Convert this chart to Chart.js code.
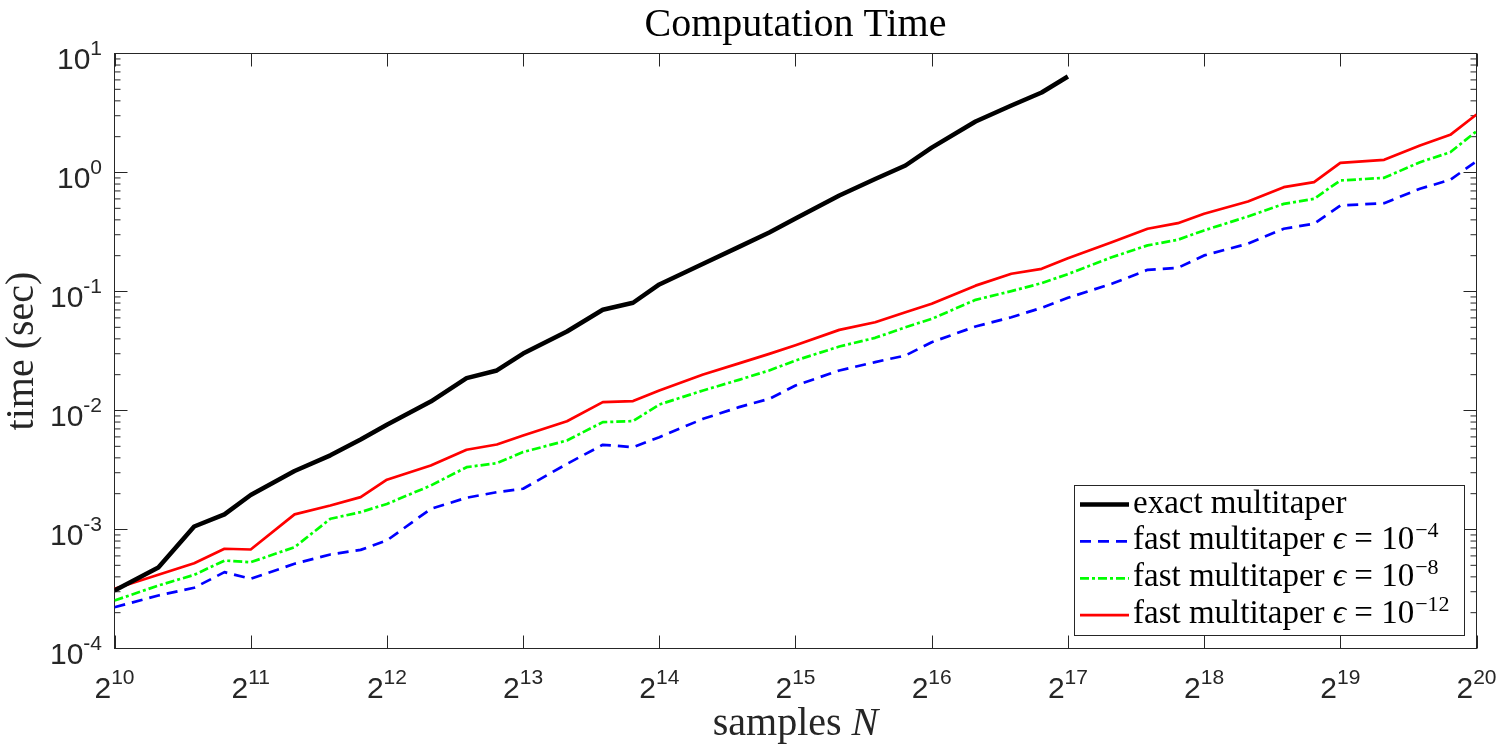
<!DOCTYPE html>
<html>
<head>
<meta charset="utf-8">
<title>Computation Time</title>
<script src="https://cdn.jsdelivr.net/npm/chart.js@4.4.1/dist/chart.umd.min.js"></script>
<style>
  html, body { margin: 0; padding: 0; background: #fff; }
  #wrap { width: 1500px; height: 750px; }
</style>
</head>
<body>
<div id="wrap"><canvas id="timeChart" width="1500" height="750"></canvas></div>
<script>
// numero de amostras N
const samples = [1024, 1280, 1536, 1792, 2048, 2560, 3072, 3584, 4096, 5120, 6144, 7168,
  8192, 10240, 12288, 14336, 16384, 20480, 24576, 28672, 32768, 40960, 49152, 57344,
  65536, 81920, 98304, 114688, 131072, 163840, 196608, 229376, 262144, 327680, 393216,
  458752, 524288, 655360, 786432, 917504, 1048576];

// tempos (sec)
const exactTime = [3.07e-4, 4.8e-4, 1.06e-3, 1.34e-3, 1.95e-3, 3.1e-3, 4.2e-3, 5.7e-3,
  7.6e-3, 0.0119, 0.0187, 0.0217, 0.0301, 0.0461, 0.0702, 0.0804, 0.1146, 0.171, 0.237,
  0.313, 0.41, 0.641, 0.882, 1.145, 1.62, 2.68, 3.66, 4.70, 6.41];
const fastTime4 = [2.22e-4, 2.79e-4, 3.24e-4, 4.38e-4, 3.85e-4, 5.15e-4, 6.17e-4, 6.74e-4,
  8.09e-4, 1.49e-3, 1.85e-3, 2.06e-3, 2.2e-3, 3.56e-3, 5.15e-3, 4.92e-3, 5.97e-3, 8.51e-3,
  0.01067, 0.01253, 0.0162, 0.0217, 0.0255, 0.029, 0.0375, 0.0508, 0.0608, 0.0729, 0.0885,
  0.116, 0.152, 0.158, 0.201, 0.252, 0.337, 0.371, 0.528, 0.552, 0.73, 0.868, 1.244];
const fastTime8 = [2.53e-4, 3.38e-4, 4.16e-4, 5.48e-4, 5.31e-4, 7.1e-4, 1.23e-3, 1.4e-3,
  1.64e-3, 2.34e-3, 3.34e-3, 3.61e-3, 4.47e-3, 5.6e-3, 7.98e-3, 8.15e-3, 0.01122, 0.01473,
  0.0181, 0.0217, 0.0263, 0.0345, 0.0408, 0.0501, 0.0589, 0.0851, 0.1007, 0.1175, 0.14,
  0.194, 0.244, 0.272, 0.326, 0.427, 0.545, 0.601, 0.857, 0.902, 1.221, 1.481, 2.22];
const fastTime12 = [3.18e-4, 4.16e-4, 5.21e-4, 6.89e-4, 6.79e-4, 1.34e-3, 1.59e-3, 1.87e-3,
  2.62e-3, 3.45e-3, 4.68e-3, 5.18e-3, 6.17e-3, 8.13e-3, 0.01175, 0.012, 0.01473, 0.0201,
  0.0249, 0.0299, 0.0354, 0.0476, 0.0552, 0.067, 0.0789, 0.112, 0.141, 0.155, 0.19,
  0.2595, 0.3366, 0.375, 0.45, 0.57, 0.753, 0.829, 1.206, 1.278, 1.686, 2.073, 3.07];

// rotulos dos eixos
const xTickExponents = [10, 11, 12, 13, 14, 15, 16, 17, 18, 19, 20];
const yTickExponents = [1, 0, -1, -2, -3, -4];
const legendLabels = [
  'exact multitaper',
  'fast multitaper ϵ = 10^−4',
  'fast multitaper ϵ = 10^−8',
  'fast multitaper ϵ = 10^−12'
];

const axisColor = '#262626';
const serif = "'Liberation Serif', 'DejaVu Serif', serif";
const sans = "'Liberation Sans', Arial, sans-serif";

function toPoints(values) {
  return values.map((v, i) => ({ x: samples[i], y: v }));
}

// base + expoente (ex.: 2^10, 10^-3)
function drawPower(ctx, base, exp, x, y, align) {
  ctx.font = '30px ' + sans;
  const wb = ctx.measureText(base).width;
  ctx.font = '21px ' + sans;
  const we = ctx.measureText(exp).width;
  let start = align === 'center' ? x - (wb + we) / 2 : x - wb - we;
  ctx.font = '30px ' + sans;
  ctx.fillText(base, start, y);
  ctx.font = '21px ' + sans;
  ctx.fillText(exp, start + wb, y - 14);
}

// texto da legenda com ϵ em italico e expoente
function drawLegendText(ctx, text, x, y) {
  const parts = text.split('^');
  const main = parts[0];
  const pieces = main.split('ϵ');
  let cx = x;
  ctx.textAlign = 'left';
  pieces.forEach((p, i) => {
    ctx.font = '33px ' + serif;
    ctx.fillText(p, cx, y);
    cx += ctx.measureText(p).width;
    if (i < pieces.length - 1) {
      ctx.font = 'italic 33px ' + serif;
      ctx.fillText('ϵ', cx, y);
      cx += ctx.measureText('ϵ').width;
    }
  });
  if (parts[1]) {
    ctx.font = '22px ' + serif;
    ctx.fillText(parts[1], cx + 1, y - 12);
  }
}

const matlabAxes = {
  id: 'matlabAxes',
  beforeDatasetsDraw(chart) {
    const { ctx, chartArea: a, scales: { x, y } } = chart;
    ctx.save();
    ctx.strokeStyle = axisColor;
    ctx.lineWidth = 1;
    ctx.beginPath();
    // ticks principais em x (baixo e topo)
    xTickExponents.forEach(e => {
      const px = Math.round(x.getPixelForValue(Math.pow(2, e))) + 0.5;
      ctx.moveTo(px, a.bottom); ctx.lineTo(px, a.bottom - 13);
      ctx.moveTo(px, a.top); ctx.lineTo(px, a.top + 13);
    });
    // ticks em y (principais e secundarios)
    for (let k = -4; k <= 1; k++) {
      const py = y.getPixelForValue(Math.pow(10, k));
      ctx.moveTo(a.left, py); ctx.lineTo(a.left + 13, py);
      ctx.moveTo(a.right, py); ctx.lineTo(a.right - 13, py);
      if (k < 1) {
        for (let m = 2; m <= 9; m++) {
          const pm = y.getPixelForValue(m * Math.pow(10, k));
          ctx.moveTo(a.left, pm); ctx.lineTo(a.left + 6, pm);
          ctx.moveTo(a.right, pm); ctx.lineTo(a.right - 6, pm);
        }
      }
    }
    ctx.stroke();
    ctx.strokeRect(a.left, a.top, a.right - a.left, a.bottom - a.top);
    ctx.restore();
  },
  afterDraw(chart) {
    const { ctx, chartArea: a, scales: { x, y } } = chart;
    ctx.save();
    ctx.fillStyle = axisColor;
    ctx.textBaseline = 'alphabetic';
    ctx.textAlign = 'left';
    xTickExponents.forEach(e => {
      drawPower(ctx, '2', String(e), x.getPixelForValue(Math.pow(2, e)), a.bottom + 49, 'center');
    });
    yTickExponents.forEach(e => {
      drawPower(ctx, '10', String(e), a.left - 12.5, y.getPixelForValue(Math.pow(10, e)) + 15, 'right');
    });

    const cx = (a.left + a.right) / 2;
    ctx.fillStyle = '#000';
    // titulo
    ctx.font = '40px ' + serif;
    ctx.textAlign = 'center';
    ctx.fillText('Computation Time', cx, 36);

    // eixo x: samples N
    ctx.fillStyle = axisColor;
    ctx.font = '40px ' + serif;
    const w1 = ctx.measureText('samples ').width;
    ctx.font = 'italic 40px ' + serif;
    const w2 = ctx.measureText('N').width;
    ctx.textAlign = 'left';
    ctx.font = '40px ' + serif;
    ctx.fillText('samples ', cx - (w1 + w2) / 2, 735);
    ctx.font = 'italic 40px ' + serif;
    ctx.fillText('N', cx - (w1 + w2) / 2 + w1, 735);

    // eixo y: time (sec)
    ctx.save();
    ctx.translate(33, (a.top + a.bottom) / 2);
    ctx.rotate(-Math.PI / 2);
    ctx.textAlign = 'center';
    ctx.font = '40px ' + serif;
    ctx.fillText('time (sec)', 0, 0);
    ctx.restore();

    // legenda
    const box = { left: 1074.5, top: 485.5, right: 1464.5, bottom: 635.5 };
    ctx.fillStyle = '#fff';
    ctx.fillRect(box.left, box.top, box.right - box.left, box.bottom - box.top);
    ctx.strokeStyle = axisColor;
    ctx.lineWidth = 1;
    ctx.strokeRect(box.left, box.top, box.right - box.left, box.bottom - box.top);
    chart.data.datasets.forEach((ds, i) => {
      const ly = 504.5 + i * 36.9;
      ctx.save();
      ctx.strokeStyle = ds.borderColor;
      ctx.lineWidth = ds.borderWidth;
      ctx.setLineDash(ds.borderDash || []);
      ctx.beginPath();
      ctx.moveTo(1080, ly);
      ctx.lineTo(1129, ly);
      ctx.stroke();
      ctx.restore();
      ctx.fillStyle = '#000';
      drawLegendText(ctx, ds.label, 1133, ly + 8);
    });
    ctx.restore();
  }
};

new Chart(document.getElementById('timeChart'), {
  type: 'line',
  data: {
    datasets: [
      {
        label: legendLabels[0],
        data: toPoints(exactTime),
        borderColor: '#000000',
        borderWidth: 4.5
      },
      {
        label: legendLabels[1],
        data: toPoints(fastTime4),
        borderColor: '#0000ff',
        borderWidth: 2.7,
        borderDash: [11, 7]
      },
      {
        label: legendLabels[2],
        data: toPoints(fastTime8),
        borderColor: '#00ff00',
        borderWidth: 2.7,
        borderDash: [9, 3, 3, 3]
      },
      {
        label: legendLabels[3],
        data: toPoints(fastTime12),
        borderColor: '#ff0000',
        borderWidth: 2.7
      }
    ]
  },
  options: {
    responsive: false,
    animation: false,
    layout: { padding: { left: 114.5, top: 53.5, right: 23.5, bottom: 101.5 } },
    elements: {
      point: { radius: 0 },
      line: { tension: 0, borderJoinStyle: 'round', borderCapStyle: 'butt' }
    },
    plugins: {
      legend: { display: false },
      title: { display: false },
      tooltip: { enabled: false }
    },
    scales: {
      x: { type: 'logarithmic', display: false, min: 1024, max: 1048576 },
      y: { type: 'logarithmic', display: false, min: 1e-4, max: 10 }
    }
  },
  plugins: [matlabAxes]
});
</script>
</body>
</html>
